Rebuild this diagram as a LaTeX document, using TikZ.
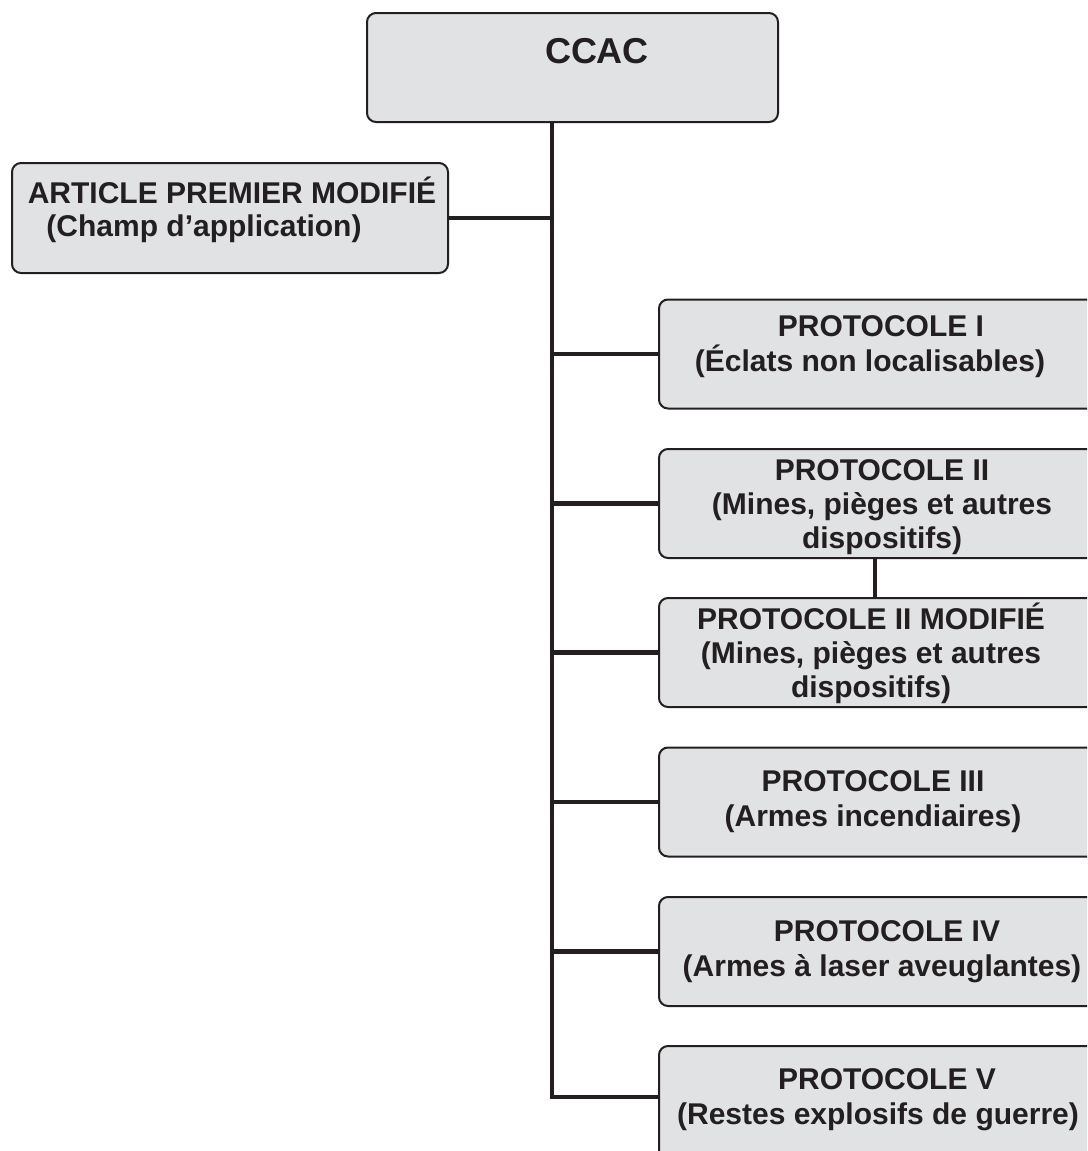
\documentclass[tikz,border=0pt]{standalone}
\usepackage{fontspec}
\setmainfont{Liberation Sans}
\definecolor{boxfill}{HTML}{E1E2E4}
\definecolor{linec}{HTML}{231F20}
\pgfdeclarelayer{bg}
\pgfsetlayers{bg,main}
\begin{document}
\begin{tikzpicture}[x=1pt,y=-1pt,
  box/.style={draw=linec, line width=2pt, fill=boxfill, rounded corners=9pt,
    inner sep=0pt, minimum height=109pt},
  rbox/.style={box, anchor=west, minimum width=460pt},
  lbl/.style={font=\bfseries\fontsize{30}{35}\selectfont, text=linec, align=center, inner sep=0pt},
  lbl3/.style={font=\bfseries\fontsize{30}{34}\selectfont, text=linec, align=center, inner sep=0pt},
  conn/.style={draw=linec, line width=4.5pt},
  conn2/.style={draw=linec, line width=4pt}]
\clip (0,0) rectangle (1087,1151);
\begin{pgfonlayer}{bg}
\fill[white] (0,0) rectangle (1087,1151);
\end{pgfonlayer}
% trunk end and the link between protocol II boxes
\coordinate (tend) at (552,1097);
\coordinate (vlink) at (875,600);
% boxes
\path (572.5,67.5) node[box, minimum width=411pt] (ccac) {};
\path (230,218) node[box, minimum width=436pt, minimum height=110pt] (art) {};
\path (658,354) node[rbox] (p1) {};
\path (658,503.5) node[rbox] (p2) {};
\path (658,652.5) node[rbox] (p2m) {};
\path (658,802) node[rbox] (p3) {};
\path (658,951.5) node[rbox] (p4) {};
\path (658,1045) node[box, anchor=north west, minimum width=460pt, minimum height=130pt] (p5) {};
% connectors (behind the boxes)
\begin{pgfonlayer}{bg}
\draw[conn, line join=miter] (ccac.south -| tend) -- (tend) -- (tend -| p5.west);
\draw[conn] (art.east) -- (art.east -| tend);
\draw[conn] (tend |- p1.west) -- (p1.west);
\draw[conn] (tend |- p2.west) -- (p2.west);
\draw[conn] (tend |- p2m.west) -- (p2m.west);
\draw[conn] (tend |- p3.west) -- (p3.west);
\draw[conn] (tend |- p4.west) -- (p4.west);
\draw[conn2] (p2.south -| vlink) -- (p2m.north -| vlink);
\end{pgfonlayer}
% labels
\node[font=\bfseries\fontsize{36}{40}\selectfont, text=linec, inner sep=0pt] (tccac) at (597,51.5) {CCAC};
\node[font=\bfseries\fontsize{30}{33}\selectfont, text=linec, align=center, inner sep=0pt] (tart) at (232,210) {ARTICLE PREMIER MODIFIÉ\\(Champ d’application)\hspace*{56pt}};
\node[lbl] (tp1) at (870,347) {\hspace*{22pt}PROTOCOLE I\\(Éclats non localisables)};
\node[lbl3] (tp2) at (882,507) {PROTOCOLE II\\(Mines, pièges et autres\\dispositifs)};
\node[lbl3] (tp2m) at (871,653) {PROTOCOLE II MODIFIÉ\\(Mines, pièges et autres\\dispositifs)};
\node[lbl] (tp3) at (873,802) {PROTOCOLE III\\(Armes incendiaires)};
\node[lbl] (tp4) at (882,951.5) {\hspace*{10pt}PROTOCOLE IV\\(Armes à laser aveuglantes)};
\node[lbl] (tp5) at (878,1100) {\hspace*{18pt}PROTOCOLE V\\(Restes explosifs de guerre)};
\end{tikzpicture}
\end{document}
